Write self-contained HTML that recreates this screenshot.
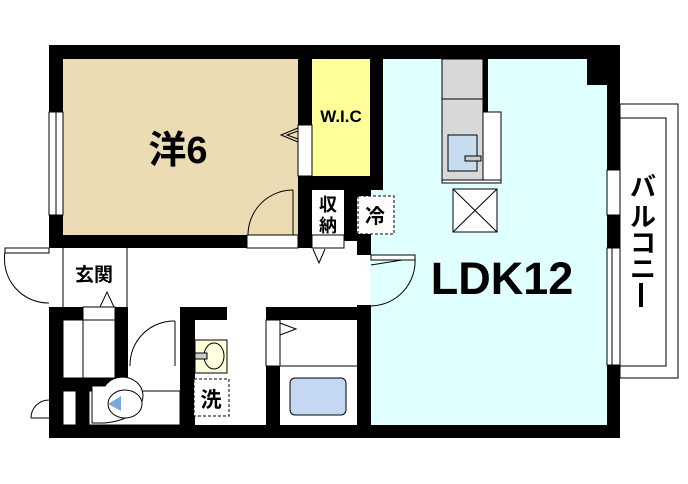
<!DOCTYPE html>
<html><head><meta charset="utf-8"><style>
html,body{margin:0;padding:0;background:#fff;width:688px;height:484px;overflow:hidden}
svg{display:block}
text{font-family:"Liberation Sans","Noto Sans CJK JP",sans-serif;font-weight:bold}
</style></head><body>
<svg width="688" height="484" viewBox="0 0 688 484" xmlns="http://www.w3.org/2000/svg">
<rect x="63" y="59" width="235" height="176" fill="#ebdcb4"/>
<rect x="312" y="59" width="58" height="117" fill="#ffff99"/>
<rect x="370" y="59" width="237" height="366" fill="#e0ffff"/>
<rect x="63" y="248" width="294" height="60" fill="#fff"/>
<rect x="620" y="104" width="58" height="274" fill="#fff" stroke="#000" stroke-width="1"/>
<rect x="620" y="118" width="46" height="248" fill="#fff" stroke="#000" stroke-width="1"/>
<g fill="#000">
<rect x="49" y="45" width="571" height="14"/>
<rect x="49" y="45" width="14" height="203"/>
<rect x="49" y="307" width="14" height="131"/>
<rect x="49" y="425" width="571" height="13"/>
<rect x="607" y="45" width="13" height="393"/>
<rect x="587" y="59" width="20" height="26"/>
<rect x="298" y="59" width="14" height="189"/>
<rect x="370" y="59" width="13" height="130"/>
<rect x="298" y="176" width="85" height="14"/>
<rect x="344" y="190" width="13" height="45"/>
<rect x="357" y="189" width="14" height="8"/>
<rect x="357" y="233" width="14" height="22"/>
<rect x="49" y="235" width="198" height="13"/>
<rect x="312" y="235" width="45" height="6"/>
<rect x="49" y="307" width="79" height="13"/>
<rect x="115" y="307" width="13" height="84"/>
<rect x="49" y="378" width="79" height="13"/>
<rect x="76" y="378" width="13" height="47"/>
<rect x="180" y="307" width="15" height="118"/>
<rect x="180" y="307" width="47" height="13"/>
<rect x="266" y="307" width="104" height="13"/>
<rect x="266" y="366" width="14" height="59"/>
<rect x="357" y="305" width="14" height="120"/>
</g>
<g fill="#fff" stroke="#000" stroke-width="1">
<rect x="247" y="235" width="51" height="13"/>
<rect x="312" y="235" width="32" height="13" />
<rect x="298" y="125" width="14" height="51"/>
<rect x="49" y="112" width="14" height="103"/>
<rect x="607" y="170" width="13" height="45"/>
<rect x="607" y="248" width="13" height="117"/>
<rect x="83" y="307" width="32" height="13"/>
<rect x="63" y="320" width="52" height="58"/>
<rect x="63" y="391" width="13" height="34"/>
<rect x="89" y="391" width="91" height="34"/>
<rect x="266" y="320" width="14" height="46"/>
</g>
<line x1="56" y1="112" x2="56" y2="215" stroke="#000"/>
<line x1="612" y1="248" x2="612" y2="365" stroke="#000"/>
<line x1="83" y1="320" x2="83" y2="378" stroke="#000"/>
<line x1="280" y1="366" x2="357" y2="366" stroke="#000"/>
<line x1="63" y1="248" x2="63" y2="307" stroke="#000"/>
<line x1="127" y1="248" x2="127" y2="307" stroke="#000"/>
<g fill="none" stroke="#000" stroke-width="1">
<path d="M293 190 A45 45 0 0 0 248 235"/><line x1="293" y1="190" x2="293" y2="235"/>
<path d="M5 252 A44 44 0 0 0 49 303"/><rect x="5" y="248" width="44" height="5" fill="#fff"/>
<path d="M175 321 A44 44 0 0 0 130 366"/><line x1="175" y1="321" x2="175" y2="366"/>
<path d="M371 265 L415 258 A45 45 0 0 1 371 306"/><rect x="371" y="255" width="44" height="5" fill="#fff"/>
<path d="M49 400 A18 18 0 0 0 31 418"/><line x1="31" y1="418" x2="49" y2="418"/>
<polyline points="298,128 281,135 298,142" /><polyline points="298,131 287,135 298,139"/>
<polyline points="313,249 319,263 325,249"/>
<polyline points="100,307 107,292 114,307"/>
<polyline points="280,323 296,329 280,335"/>
</g>
<text x="328" y="211" font-size="18" text-anchor="middle">収</text>
<text x="328" y="232" font-size="18" text-anchor="middle">納</text>
<rect x="358" y="196" width="36" height="38" fill="#fff" stroke="#000" stroke-dasharray="3,2"/>
<text x="375" y="223" font-size="20" text-anchor="middle">冷</text>
<rect x="442" y="59" width="41" height="121" fill="#d8d8d8" stroke="#000"/>
<line x1="442" y1="99" x2="483" y2="99" stroke="#000"/>
<rect x="483" y="59" width="5" height="53" fill="#000"/>
<rect x="483" y="112" width="18" height="71" fill="#fff" stroke="#000"/>
<rect x="442" y="180" width="59" height="3" fill="#fff" stroke="#000"/>
<rect x="448" y="135" width="29" height="36" fill="#c8dcf0" stroke="#000"/>
<rect x="465" y="156" width="16" height="5" fill="#ccc" stroke="#000"/>
<rect x="453" y="189" width="44" height="43" fill="#fff" stroke="#000"/>
<line x1="453" y1="189" x2="497" y2="232" stroke="#000"/><line x1="497" y1="189" x2="453" y2="232" stroke="#000"/>
<rect x="195" y="340" width="32" height="33" fill="#ffffdd" stroke="#000"/>
<ellipse cx="214" cy="356" rx="10" ry="13" fill="none" stroke="#000"/>
<rect x="195" y="353" width="12" height="6" fill="#ccc" stroke="#000"/>
<rect x="194" y="379" width="35" height="37" fill="#fff" stroke="#000" stroke-dasharray="3,2"/>
<text x="211" y="407" font-size="21" text-anchor="middle">洗</text>
<path d="M92 386 L92 423 L105 423 A44 22 0 0 0 140 405 A20 18 0 0 0 105 386 Z" fill="#fff" stroke="#000"/>
<ellipse cx="125" cy="404" rx="17" ry="14" fill="#fff" stroke="#000"/>
<path d="M108 404 L121 396 L121 411 Z" fill="#7aa7dd"/>
<rect x="290" y="378" width="56" height="37" rx="5" fill="#c5d8f3" stroke="#000"/>
<text x="178" y="163" font-size="38" text-anchor="middle">洋6</text>
<text x="341" y="122" font-size="17" text-anchor="middle">W.I.C</text>
<text x="502" y="294" font-size="45" text-anchor="middle">LDK12</text>
<text x="94" y="281" font-size="19" text-anchor="middle">玄関</text>
<g font-size="26">
<text x="643" y="196" text-anchor="middle">バ</text>
<text x="643" y="226" text-anchor="middle">ル</text>
<text x="643" y="252" text-anchor="middle">コ</text>
<text x="643" y="278" text-anchor="middle">ニ</text>
</g>
<rect x="639" y="283" width="4" height="24" fill="#000"/>
</svg>
</body></html>
